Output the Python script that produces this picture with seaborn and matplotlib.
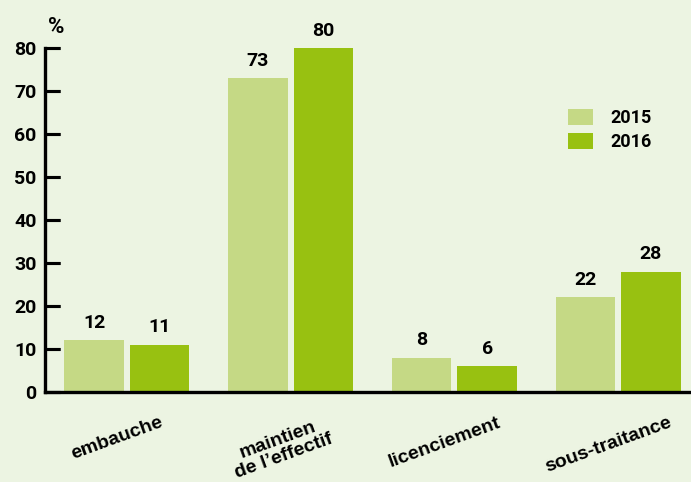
import matplotlib
matplotlib.use("Agg")
import matplotlib.pyplot as plt
import matplotlib.transforms as mtransforms
import seaborn as sns
import pandas as pd

categories = ["embauche", "maintien\nde l\u2019effectif", "licenciement", "sous-traitance"]
years = ["2015", "2016"]
values_2015 = [12, 73, 8, 22]
values_2016 = [11, 80, 6, 28]
yticks = [0, 10, 20, 30, 40, 50, 60, 70, 80]

bg = "#ecf4e2"
colors = {"2015": "#c5d985", "2016": "#98c111"}

df = pd.DataFrame({
    "cat": categories * 2,
    "year": ["2015"] * len(categories) + ["2016"] * len(categories),
    "val": values_2015 + values_2016,
})

sns.set_theme(style="white")
plt.rcParams["font.family"] = ["Roboto", "DejaVu Sans"]
plt.rcParams["text.color"] = "black"
plt.rcParams["ytick.left"] = True
plt.rcParams["ytick.direction"] = "in"
plt.rcParams["ytick.major.size"] = 11
plt.rcParams["ytick.major.width"] = 2.2
plt.rcParams["ytick.color"] = "black"
plt.rcParams["ytick.labelcolor"] = "black"
plt.rcParams["ytick.labelsize"] = 14
plt.rcParams["ytick.major.pad"] = 6
plt.rcParams["xtick.bottom"] = False
plt.rcParams["xtick.labelcolor"] = "black"
plt.rcParams["xtick.major.pad"] = 10

fig = plt.figure(figsize=(6.91, 4.82), dpi=100, facecolor=bg)
ax = fig.add_axes([45 / 691, (482 - 392) / 482, 1 - 45 / 691, (392 - 48) / 482])
ax.set_facecolor(bg)

sns.barplot(data=df, x="cat", y="val", hue="year", hue_order=years,
            palette=colors, width=0.8, gap=0.09, saturation=1,
            order=categories, ax=ax, legend=True, linewidth=0, edgecolor="none")

ax.set_xlim(-0.5, 3.445)
ax.set_ylim(0, 80)
ax.set_yticks(yticks)
ax.set_xlabel("")
ax.set_ylabel("")

for s in ["top", "right"]:
    ax.spines[s].set_visible(False)
for s in ["left", "bottom"]:
    ax.spines[s].set_color("black")
    ax.spines[s].set_linewidth(2.4)

# inward tick marks on the y axis, placed at the tick values
ax.hlines(yticks, 0, 15 / 646, transform=ax.get_yaxis_transform(),
          colors="black", linewidth=2.2, zorder=6, clip_on=False)

for cont in ax.containers:
    ax.bar_label(cont, labels=[f"{int(v)}" for v in cont.datavalues],
                 padding=6, fontsize=14, fontweight="bold", color="black")

ax.text(0.017, 1.03, "%", transform=ax.transAxes, fontsize=16,
        fontweight="bold", ha="center", va="bottom", color="black")

leg = ax.legend(loc="upper left", bbox_to_anchor=(0.785, 0.87), frameon=False,
                fontsize=13, handlelength=1.35, handleheight=1.0,
                handletextpad=1.0, labelspacing=0.3)
for t in leg.get_texts():
    t.set_fontweight("bold")
    t.set_color("black")

for lab in ax.get_yticklabels():
    lab.set_fontweight("bold")

offset = mtransforms.ScaledTranslation(-10 / 100, 0, fig.dpi_scale_trans)
for lab in ax.get_xticklabels():
    lab.set_rotation(20)
    lab.set_ha("center")
    lab.set_fontweight("bold")
    lab.set_fontsize(14)
    lab.set_family(["Liberation Sans", "DejaVu Sans"])
    lab.set_linespacing(1.0)
    lab.set_transform(lab.get_transform() + offset)

fig.savefig("out.png", dpi=100, facecolor=bg)
